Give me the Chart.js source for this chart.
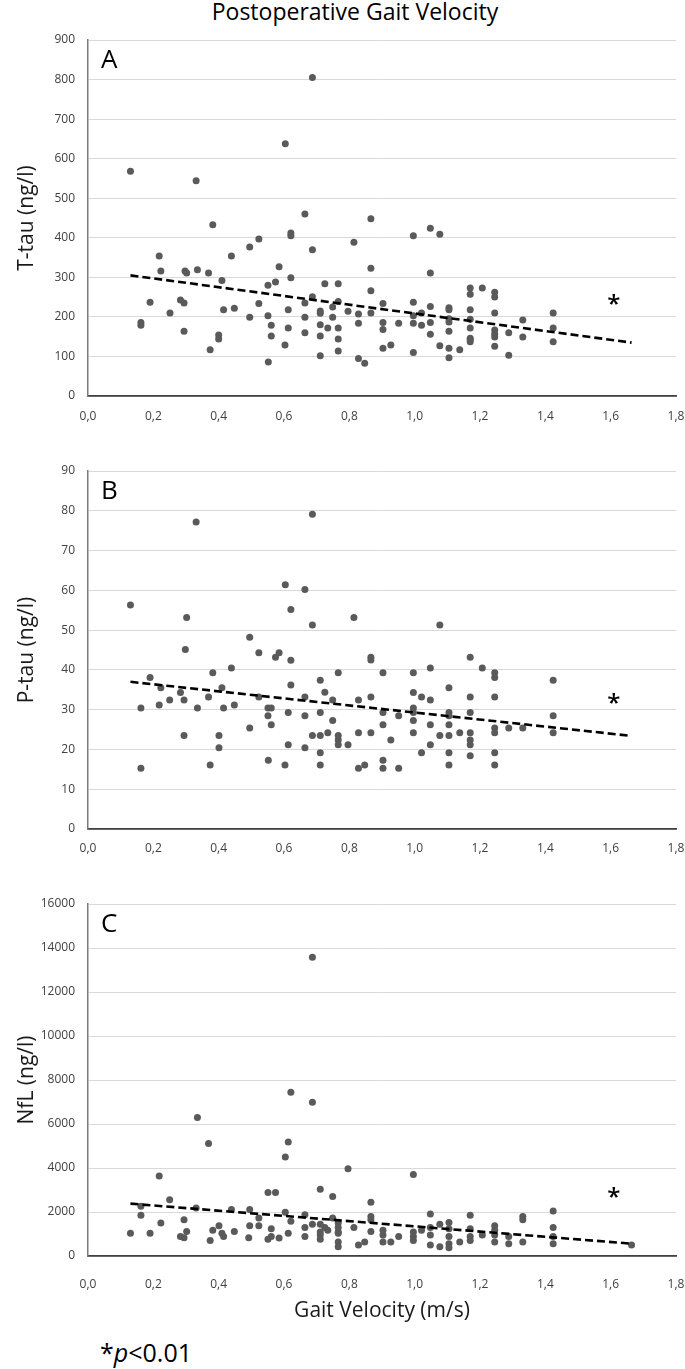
<!DOCTYPE html>
<html>
<head>
<meta charset="utf-8">
<script src="https://cdn.jsdelivr.net/npm/chart.js@4.4.1/dist/chart.umd.min.js"></script>
<style>
  html, body { margin: 0; padding: 0; background: #fff; }
  body { position: relative; width: 685px; height: 1369px; overflow: hidden;
         font-family: "Open Sans", sans-serif; color: #000; }
  canvas { position: absolute; left: 0; }
  .title { position: absolute; left: 55px; width: 600px; top: 0px; text-align: center;
           font-size: 23px; line-height: 1; }
  .note { position: absolute; left: 100px; top: 1340px; font-size: 25px; line-height: 1; }
</style>
</head>
<body>
<div class="title">Postoperative Gait Velocity</div>
<canvas id="chartA" width="685" height="410" style="top:30px"></canvas>
<canvas id="chartB" width="685" height="409" style="top:461px"></canvas>
<canvas id="chartC" width="685" height="440" style="top:894px"></canvas>
<div class="note">*<i>p</i>&lt;0.01</div>

<script>
// ---- data ----

const velocityTicks = [0, 0.2, 0.4, 0.6, 0.8, 1.0, 1.2, 1.4, 1.6, 1.8];
const tTauTicks = [0, 100, 200, 300, 400, 500, 600, 700, 800, 900];
const pTauTicks = [0, 10, 20, 30, 40, 50, 60, 70, 80, 90];
const nflTicks = [0, 2000, 4000, 6000, 8000, 10000, 12000, 14000, 16000];

// A: T-tau
const tTauVelocity = [
  0.13, 0.687, 0.604, 0.331, 0.382, 0.664, 0.621, 0.621, 0.523, 0.495, 0.687, 0.814,
  0.866, 0.218, 0.439, 0.223, 0.297, 0.302, 0.335, 0.369, 0.41, 0.585, 0.574, 0.551,
  0.621, 0.866, 0.725, 0.766, 0.866, 0.687, 0.19, 0.283, 0.294, 0.251, 0.415, 0.448,
  0.523, 0.613, 0.664, 0.766, 0.749, 0.711, 0.711, 0.796, 0.828, 0.866, 0.162, 0.162,
  0.294, 0.495, 0.551, 0.561, 0.613, 0.664, 0.664, 0.711, 0.734, 0.749, 0.766, 0.828,
  0.4, 0.4, 0.561, 0.711, 0.766, 0.374, 0.603, 0.766, 0.711, 0.552, 0.828, 0.847,
  0.996, 1.048, 1.077, 1.048, 0.903, 0.996, 1.048, 1.105, 1.105, 1.17, 1.17, 1.207,
  1.245, 1.245, 1.17, 1.245, 1.424, 0.996, 1.021, 0.996, 1.021, 0.903, 0.903, 0.951,
  1.048, 1.048, 1.105, 1.105, 1.105, 1.17, 1.17, 1.17, 1.17, 1.17, 1.245, 1.245,
  1.245, 1.245, 1.288, 1.331, 1.331, 1.424, 1.424, 0.903, 0.927, 0.996, 1.077, 1.105,
  1.105, 1.138, 1.288
];
const tTau = [
  568, 805, 638, 544, 433, 460, 412, 405, 397, 377, 370, 389,
  448, 354, 354, 316, 316, 311, 319, 311, 292, 327, 288, 280,
  299, 323, 284, 284, 266, 251, 237, 243, 235, 210, 218, 222,
  234, 218, 235, 239, 225, 215, 209, 214, 207, 210, 186, 179,
  164, 199, 203, 179, 172, 199, 160, 180, 172, 199, 172, 184,
  154, 144, 152, 152, 144, 117, 129, 114, 102, 86, 95, 83,
  405, 424, 409, 311, 234, 237, 226, 223, 218, 273, 257, 273,
  262, 250, 218, 210, 210, 203, 210, 184, 179, 186, 168, 184,
  186, 156, 195, 187, 164, 194, 172, 146, 137, 142, 167, 157,
  149, 126, 160, 192, 149, 172, 137, 121, 129, 110, 127, 121,
  97, 117, 103
];

// B: P-tau
const pTauVelocity = [
  0.13, 0.687, 0.331, 0.604, 0.664, 0.621, 0.687, 0.814, 0.302, 0.495, 0.298, 0.523,
  0.574, 0.585, 0.621, 0.866, 0.866, 0.439, 0.382, 0.766, 0.19, 0.223, 0.283, 0.41,
  0.621, 0.711, 0.725, 0.369, 0.25, 0.294, 0.523, 0.664, 0.749, 0.828, 0.866, 0.162,
  0.218, 0.335, 0.415, 0.448, 0.551, 0.561, 0.613, 0.711, 0.551, 0.664, 0.749, 0.561,
  0.495, 0.294, 0.401, 0.687, 0.711, 0.734, 0.766, 0.766, 0.766, 0.796, 0.828, 0.866,
  0.401, 0.613, 0.664, 0.711, 0.552, 0.374, 0.603, 0.711, 0.162, 0.828, 0.847,
  1.077, 1.17, 1.207, 0.903, 0.996, 1.048, 1.245, 1.245, 1.424, 1.105, 0.996, 1.021,
  1.048, 1.17, 1.245, 0.996, 0.903, 0.996, 1.105, 1.105, 1.17, 0.951, 0.996, 0.903,
  1.048, 1.105, 1.424, 1.245, 1.245, 1.288, 1.331, 1.424, 0.996, 1.077, 1.105, 1.138,
  1.17, 1.17, 1.17, 0.927, 1.048, 1.021, 1.105, 1.17, 1.245, 0.903, 0.903, 0.951,
  1.105, 1.245
];
const pTau = [
  56.3, 79.1, 77.2, 61.4, 60.2, 55.2, 51.3, 53.2, 53.2, 48.2, 45.1, 44.3,
  43.2, 44.3, 42.4, 43.2, 42.5, 40.5, 39.3, 39.3, 38.1, 35.5, 34.3, 35.5,
  36.2, 37.4, 34.4, 33.2, 32.4, 32.4, 33.2, 33.2, 32.4, 32.4, 33.2, 30.4,
  31.2, 30.4, 30.4, 31.2, 30.4, 30.4, 29.3, 29.3, 28.5, 28.5, 27.3, 26.2,
  25.4, 23.5, 23.5, 23.5, 23.5, 24.2, 23.5, 22.4, 21.2, 21.2, 24.2, 24.2,
  20.4, 21.2, 20.4, 19.2, 17.3, 16.1, 16.1, 16.1, 15.3, 15.3, 16.1,
  51.3, 43.2, 40.5, 39.3, 39.3, 40.5, 39.3, 38.1, 37.4, 35.5, 34.3, 33.2,
  32.4, 33.2, 33.2, 30.4, 29.3, 29.3, 29.3, 28.5, 29.3, 28.5, 27.3, 26.2,
  26.2, 26.2, 28.5, 25.4, 24.2, 25.4, 25.4, 24.2, 24.2, 23.5, 23.5, 24.2,
  24.2, 22.4, 21.2, 22.4, 21.2, 19.2, 19.2, 18.4, 19.2, 17.3, 15.3, 15.3,
  16.1, 16.1
];

// C: NfL
const nflVelocity = [
  0.687, 0.621, 0.687, 0.335, 0.369, 0.613, 0.604, 0.796, 0.218, 0.711, 0.749, 0.551,
  0.574, 0.25, 0.866, 0.162, 0.162, 0.331, 0.439, 0.495, 0.604, 0.664, 0.523, 0.749,
  0.866, 0.866, 0.223, 0.294, 0.621, 0.687, 0.766, 0.401, 0.495, 0.523, 0.711, 0.725,
  0.664, 0.814, 0.766, 0.13, 0.19, 0.302, 0.283, 0.294, 0.382, 0.41, 0.415, 0.448,
  0.561, 0.561, 0.551, 0.585, 0.613, 0.664, 0.711, 0.711, 0.711, 0.734, 0.766, 0.766,
  0.766, 0.766, 0.828, 0.847, 0.866, 0.374, 0.492,
  0.996, 1.048, 1.17, 1.331, 1.331, 1.424, 0.903, 0.903, 0.903, 0.927, 0.951, 0.996,
  0.996, 0.996, 1.021, 1.048, 1.048, 1.048, 1.077, 1.077, 1.105, 1.105, 1.105, 1.105,
  1.105, 1.138, 1.17, 1.17, 1.17, 1.207, 1.245, 1.245, 1.245, 1.245, 1.288, 1.288,
  1.331, 1.424, 1.424, 1.424, 1.664
];
const nfl = [
  13580, 7440, 6990, 6300, 5110, 5180, 4500, 3970, 3640, 3030, 2710, 2890,
  2890, 2560, 2440, 2260, 1850, 2180, 2110, 2110, 1990, 1880, 1730, 1730,
  1800, 1650, 1500, 1650, 1580, 1440, 1500, 1380, 1380, 1380, 1440, 1300,
  1300, 1300, 1300, 1030, 1030, 1110, 890, 830, 1170, 1030, 890, 1110,
  1240, 890, 760, 820, 1030, 890, 1090, 960, 760, 1170, 1090, 1030,
  640, 420, 500, 640, 1110, 700, 830,
  3710, 1910, 1850, 1800, 1650, 2050, 1170, 960, 640, 640, 890, 1090,
  890, 700, 1170, 1300, 960, 500, 1440, 420, 1520, 1240, 890, 560,
  380, 640, 1240, 890, 700, 960, 1380, 1170, 960, 640, 890, 560,
  640, 1300, 890, 560, 500
];

// linear trend lines (end points)
const trendVelocity = [0.13, 1.664];
const tTauTrend = [305, 135];
const pTauTrend = [37.0, 23.4];
const nflTrend = [2380, 560];

// significance marks
const starVelocity = 1.61;
const tTauStar = 243;
const pTauStar = 32.9;
const nflStar = 2890;

// ---- drawing ----

Chart.defaults.font.family = '"Open Sans", sans-serif';

/* panel letter in the corner + "*" next to the trend line */
const markers = {
  id: 'markers',
  afterDatasetsDraw(chart, args, opts) {
    const { ctx, chartArea, scales } = chart;
    ctx.save();
    ctx.fillStyle = '#000';
    ctx.font = '26px "Open Sans"';
    ctx.textBaseline = 'alphabetic';
    ctx.textAlign = 'left';
    ctx.fillText(opts.letter, chartArea.left + 13, chartArea.top + 28);

    ctx.font = '600 24px "Open Sans"';
    ctx.textAlign = 'center';
    const m = ctx.measureText('*');
    const x = scales.x.getPixelForValue(opts.star[0]);
    const y = scales.y.getPixelForValue(opts.star[1]);
    ctx.fillText('*', x, y + (m.actualBoundingBoxAscent - m.actualBoundingBoxDescent) / 2);
    ctx.restore();
  },
};

const fmtVelocity = v => v.toFixed(1).replace('.', ',');

function panel(id, cfg) {
  const ctx = document.getElementById(id);
  return new Chart(ctx, {
    type: 'scatter',
    data: {
      datasets: [
        {
          type: 'line',
          data: cfg.trend.map((y, i) => ({ x: trendVelocity[i], y })),
          borderColor: '#000',
          borderWidth: 2.6,
          borderDash: [8, 4],
          pointRadius: 0,
          fill: false,
          order: 0,
        },
        {
          data: cfg.x.map((x, i) => ({ x, y: cfg.y[i] })),
          pointRadius: 3.5,
          pointBackgroundColor: '#5a5a5a',
          pointBorderWidth: 0,
          order: 1,
        },
      ],
    },
    options: {
      responsive: false,
      animation: false,
      events: [],
      layout: { padding: { top: 10, right: 9, left: 0, bottom: 0 } },
      plugins: {
        legend: { display: false },
        tooltip: { enabled: false },
        markers: { letter: cfg.letter, star: [starVelocity, cfg.star] },
      },
      scales: {
        x: {
          type: 'linear',
          min: 0,
          max: 1.8,
          afterBuildTicks: s => { s.ticks = velocityTicks.map(value => ({ value })); },
          afterFit: s => { s.height = cfg.xHeight; s.paddingLeft = 0; s.paddingRight = 0; },
          grid: { display: false },
          border: { display: true, color: '#404040', width: 1.8 },
          ticks: {
            padding: cfg.xPad,
            maxRotation: 0,
            autoSkip: false,
            color: '#404040',
            font: { size: 12 },
            callback: fmtVelocity,
          },
          title: cfg.xTitle
            ? { display: true, text: cfg.xTitle, color: '#1a1a1a', font: { size: 21 },
                padding: { top: 0, bottom: 10 } }
            : { display: false },
        },
        y: {
          min: 0,
          max: cfg.ticks[cfg.ticks.length - 1],
          afterBuildTicks: s => { s.ticks = cfg.ticks.map(value => ({ value })); },
          afterFit: s => { s.width = 88; s.paddingTop = 0; s.paddingBottom = 0; },
          grid: { color: '#d9d9d9', lineWidth: 1, drawTicks: false },
          border: { display: true, color: '#7a7a7a', width: 1.5 },
          ticks: {
            padding: 13,
            color: '#404040',
            font: { size: 12 },
            callback: v => String(v),
          },
          title: {
            display: true,
            text: cfg.yTitle,
            color: '#1a1a1a',
            font: { size: 21 },
            padding: { top: 14, bottom: 0 },
          },
        },
      },
    },
    plugins: [markers],
  });
}

panel('chartA', {
  letter: 'A', x: tTauVelocity, y: tTau, trend: tTauTrend, star: tTauStar,
  ticks: tTauTicks, yTitle: 'T-tau (ng/l)', xHeight: 44, xPad: 5,
});
panel('chartB', {
  letter: 'B', x: pTauVelocity, y: pTau, trend: pTauTrend, star: pTauStar,
  ticks: pTauTicks, yTitle: 'P-tau (ng/l)', xHeight: 41, xPad: 4,
});
panel('chartC', {
  letter: 'C', x: nflVelocity, y: nfl, trend: nflTrend, star: nflStar,
  ticks: nflTicks, yTitle: 'NfL (ng/l)', xHeight: 78, xPad: 13,
  xTitle: 'Gait Velocity (m/s)',
});
</script>
</body>
</html>
